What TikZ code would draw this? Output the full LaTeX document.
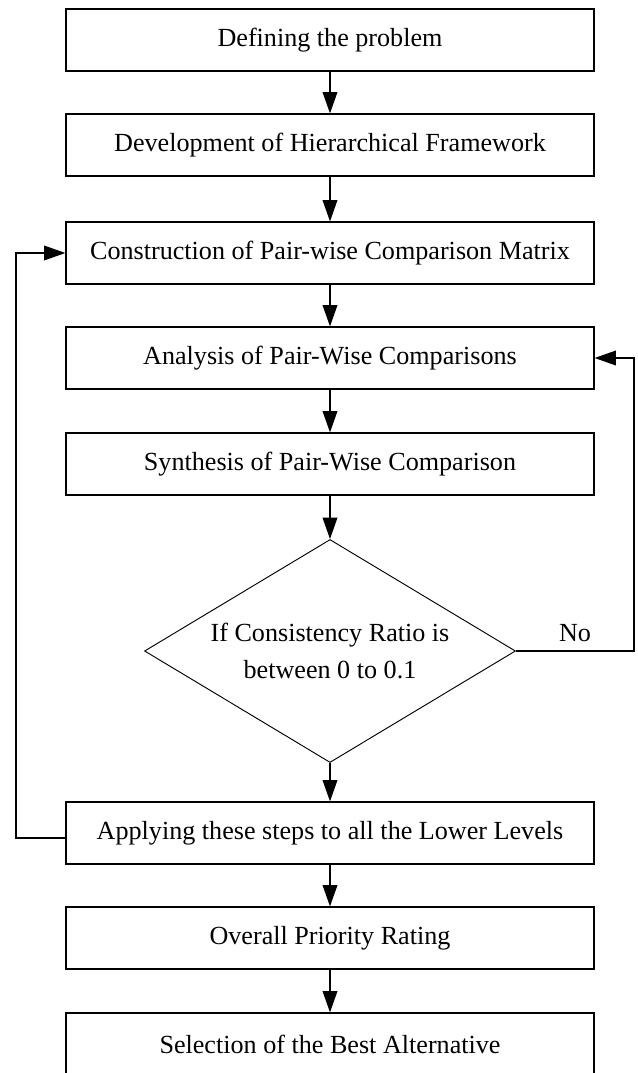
\documentclass[tikz,border=0pt]{standalone}
\usepackage{fontspec}
\setmainfont{Liberation Serif}
\usetikzlibrary{positioning, arrows.meta, shapes.geometric}

\begin{document}
\begin{tikzpicture}[
    x=0.03cm, y=-0.03cm,
    arrow/.style={-{Triangle[length=6.4mm, width=4.4mm]}, line width=1.2pt},
    stepbox/.style={draw, line width=1pt, minimum width=15.84cm, minimum height=1.86cm, inner sep=0pt, font=\fontsize{22.3}{27}\selectfont},
    decision/.style={draw, diamond, aspect=1.66, line width=0.8pt, minimum width=11.13cm, minimum height=6.69cm, inner sep=0pt, align=center, font=\fontsize{22.3}{31}\selectfont}
]

    % Page frame
    \useasboundingbox (0, 0) rectangle (637, 1073);
    \clip (0, 0) rectangle (637, 1073);

    % Steps
    \node[stepbox] (def) at (330, 40) {Defining the problem};
    \node[stepbox] (dev) at (330, 145) {Development of Hierarchical Framework};
    \node[stepbox] (constr) at (330, 253) {Construction of Pair-wise Comparison Matrix};
    \node[stepbox] (anal) at (330, 358) {Analysis of Pair-Wise Comparisons};
    \node[stepbox] (synth) at (330, 464) {Synthesis of Pair-Wise Comparison};
    \node[decision] (cr) at (330, 651) {If Consistency Ratio is\\between 0 to 0.1};
    \node[stepbox] (apply) at (330, 833) {Applying these steps to all the Lower Levels};
    \node[stepbox] (overall) at (330, 938) {Overall Priority Rating};
    \node[stepbox] (select) at (330, 1044) {Selection of the Best Alternative};

    % Main flow
    \draw[arrow] (def) -- (dev);
    \draw[arrow] (dev) -- (constr);
    \draw[arrow] (constr) -- (anal);
    \draw[arrow] (anal) -- (synth);
    \draw[arrow] (synth) -- (cr);
    \draw[arrow] (cr) -- (apply);
    \draw[arrow] (apply) -- (overall);
    \draw[arrow] (overall) -- (select);

    % Feedback loops
    \coordinate (lft) at (16, 838);
    \coordinate (rgt) at (634, 651);
    \draw[arrow] (apply.west |- lft) -- (lft) |- (constr.west);
    \draw[arrow] (cr.east) -- node[above=4pt, font=\fontsize{22.3}{27}\selectfont] (no) {No} (rgt) |- (anal.east);

\end{tikzpicture}
\end{document}
